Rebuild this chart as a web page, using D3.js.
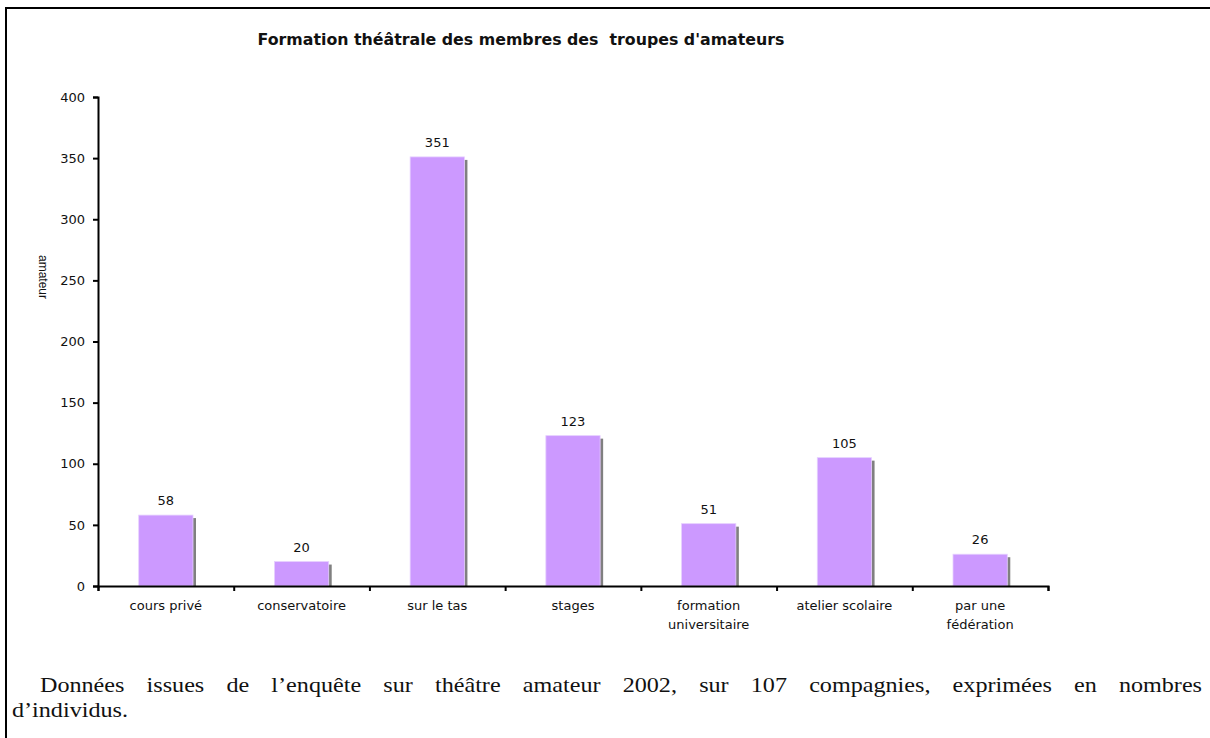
<!DOCTYPE html>
<html>
<head>
<meta charset="utf-8">
<script src="https://cdn.jsdelivr.net/npm/d3@7"></script>
<style>
  body { margin: 0; background: #fff; }
  svg { display: block; }
</style>
</head>
<body>
<div id="chart"></div>
<script>
// data
var categories = ["cours privé", "conservatoire", "sur le tas", "stages", "formation universitaire", "atelier scolaire", "par une fédération"];
var catLines = [["cours privé"], ["conservatoire"], ["sur le tas"], ["stages"], ["formation", "universitaire"], ["atelier scolaire"], ["par une", "fédération"]];
var values = [58, 20, 351, 123, 51, 105, 26];
var yTicks = [0, 50, 100, 150, 200, 250, 300, 350, 400];

var title = "Formation théâtrale des membres des\u00a0 troupes d'amateurs";
var yLabel = "amateur";
var note1 = "Données issues de l\u2019enquête sur théâtre amateur 2002, sur 107 compagnies, exprimées en nombres";
var note2 = "d\u2019individus.";

drawChart();

function drawChart(){
	var width = 1210;
	var height = 738;

	var svg = d3.select("#chart")
		.append("svg")
		.attr("width", width)
		.attr("height", height);

	// frame (top + left border)
	svg.append("path")
		.attr("d", "M6,738 V8 H1210")
		.attr("fill", "none")
		.attr("stroke", "#000")
		.attr("stroke-width", 2);

	// plot area
	var pLeft = 98, pRight = 1048, pTop = 97, pBottom = 586;

	var x = d3.scaleBand()
		.domain(categories)
		.range([pLeft, pRight])
		.paddingInner(0.6)
		.paddingOuter(0.3);

	var xEdge = d3.scaleLinear()
		.domain([0, categories.length])
		.range([pLeft, pRight]);

	var y = d3.scaleLinear()
		.domain([0, 400])
		.range([pBottom, pTop]);

	var font = "'DejaVu Sans', Verdana, sans-serif";

	// title
	svg.append("text")
		.attr("x", 521)
		.attr("y", 45)
		.attr("text-anchor", "middle")
		.style("font-family", font)
		.style("font-weight", "bold")
		.style("font-size", "15.8px")
		.attr("fill", "#111")
		.text(title);

	// bars: shadow first then the bar
	var bars = svg.append("g");
	bars.selectAll("rect.shadow")
		.data(values)
		.enter()
		.append("rect")
		.attr("class", "shadow")
		.attr("x", function(d, i){ return x(categories[i]) + 3; })
		.attr("y", function(d){ return y(d) + 3; })
		.attr("width", x.bandwidth())
		.attr("height", function(d){ return pBottom - y(d) - 3; })
		.attr("fill", "#808080");

	bars.selectAll("rect.bar")
		.data(values)
		.enter()
		.append("rect")
		.attr("class", "bar")
		.attr("x", function(d, i){ return x(categories[i]); })
		.attr("y", function(d){ return y(d); })
		.attr("width", x.bandwidth())
		.attr("height", function(d){ return pBottom - y(d); })
		.attr("fill", "#cc99ff")
		.attr("stroke", "#e6d0ff")
		.attr("stroke-width", 0.8);

	// value labels
	svg.selectAll("text.val")
		.data(values)
		.enter()
		.append("text")
		.attr("class", "val")
		.attr("x", function(d, i){ return x(categories[i]) + x.bandwidth() / 2; })
		.attr("y", function(d){ return y(d) - 10; })
		.attr("text-anchor", "middle")
		.style("font-family", font)
		.style("font-size", "13px")
		.attr("fill", "#111")
		.text(function(d){ return d; });

	// y axis
	var yAxis = svg.append("g")
		.attr("transform", "translate(" + pLeft + ",0)")
		.call(d3.axisLeft(y).tickValues(yTicks).tickSize(5).tickPadding(8));
	yAxis.select(".domain").attr("stroke-width", 2);
	yAxis.selectAll(".tick line").attr("stroke-width", 2);
	yAxis.selectAll(".tick text")
		.style("font-family", font)
		.style("font-size", "13px")
		.attr("fill", "#111");

	// x axis: ticks at band edges
	var xAxis = svg.append("g")
		.attr("transform", "translate(0," + pBottom + ")")
		.call(d3.axisBottom(xEdge).tickValues(d3.range(categories.length + 1)).tickSize(5).tickFormat(""));
	xAxis.select(".domain").attr("stroke-width", 2);
	xAxis.selectAll(".tick line").attr("stroke-width", 2);

	// category labels
	var cats = svg.selectAll("text.cat")
		.data(catLines)
		.enter()
		.append("text")
		.attr("class", "cat")
		.attr("text-anchor", "middle")
		.style("font-family", font)
		.style("font-size", "13px")
		.attr("fill", "#111");
	cats.each(function(lines, i){
		var t = d3.select(this);
		lines.forEach(function(s, j){
			t.append("tspan")
				.attr("x", x(categories[i]) + x.bandwidth() / 2)
				.attr("y", 610 + j * 19)
				.text(s);
		});
	});

	// y label
	svg.append("text")
		.attr("transform", "translate(39,277) rotate(90)")
		.attr("text-anchor", "middle")
		.style("font-family", "'Liberation Sans', Arial, sans-serif")
		.style("font-size", "12px")
		.attr("fill", "#111")
		.text(yLabel);

	// note under the chart: widened serif (stand-in for Garamond),
	// first line justified through word spacing
	var serif = "'Liberation Serif', 'Times New Roman', serif";
	var stretch = 1.15;
	var avail = 1202 - 40;
	var gaps = note1.split(" ").length - 1;

	var n1 = svg.append("text")
		.attr("transform", "translate(40,692) scale(" + stretch + ",1)")
		.style("font-family", serif)
		.style("font-size", "21px")
		.attr("fill", "#111")
		.text(note1);
	var w1 = n1.node().getComputedTextLength();
	n1.style("word-spacing", Math.max(0, (avail / stretch - w1) / gaps) + "px");

	svg.append("text")
		.attr("transform", "translate(12,717) scale(" + stretch + ",1)")
		.style("font-family", serif)
		.style("font-size", "21px")
		.attr("fill", "#111")
		.text(note2);
}
</script>
</body>
</html>
